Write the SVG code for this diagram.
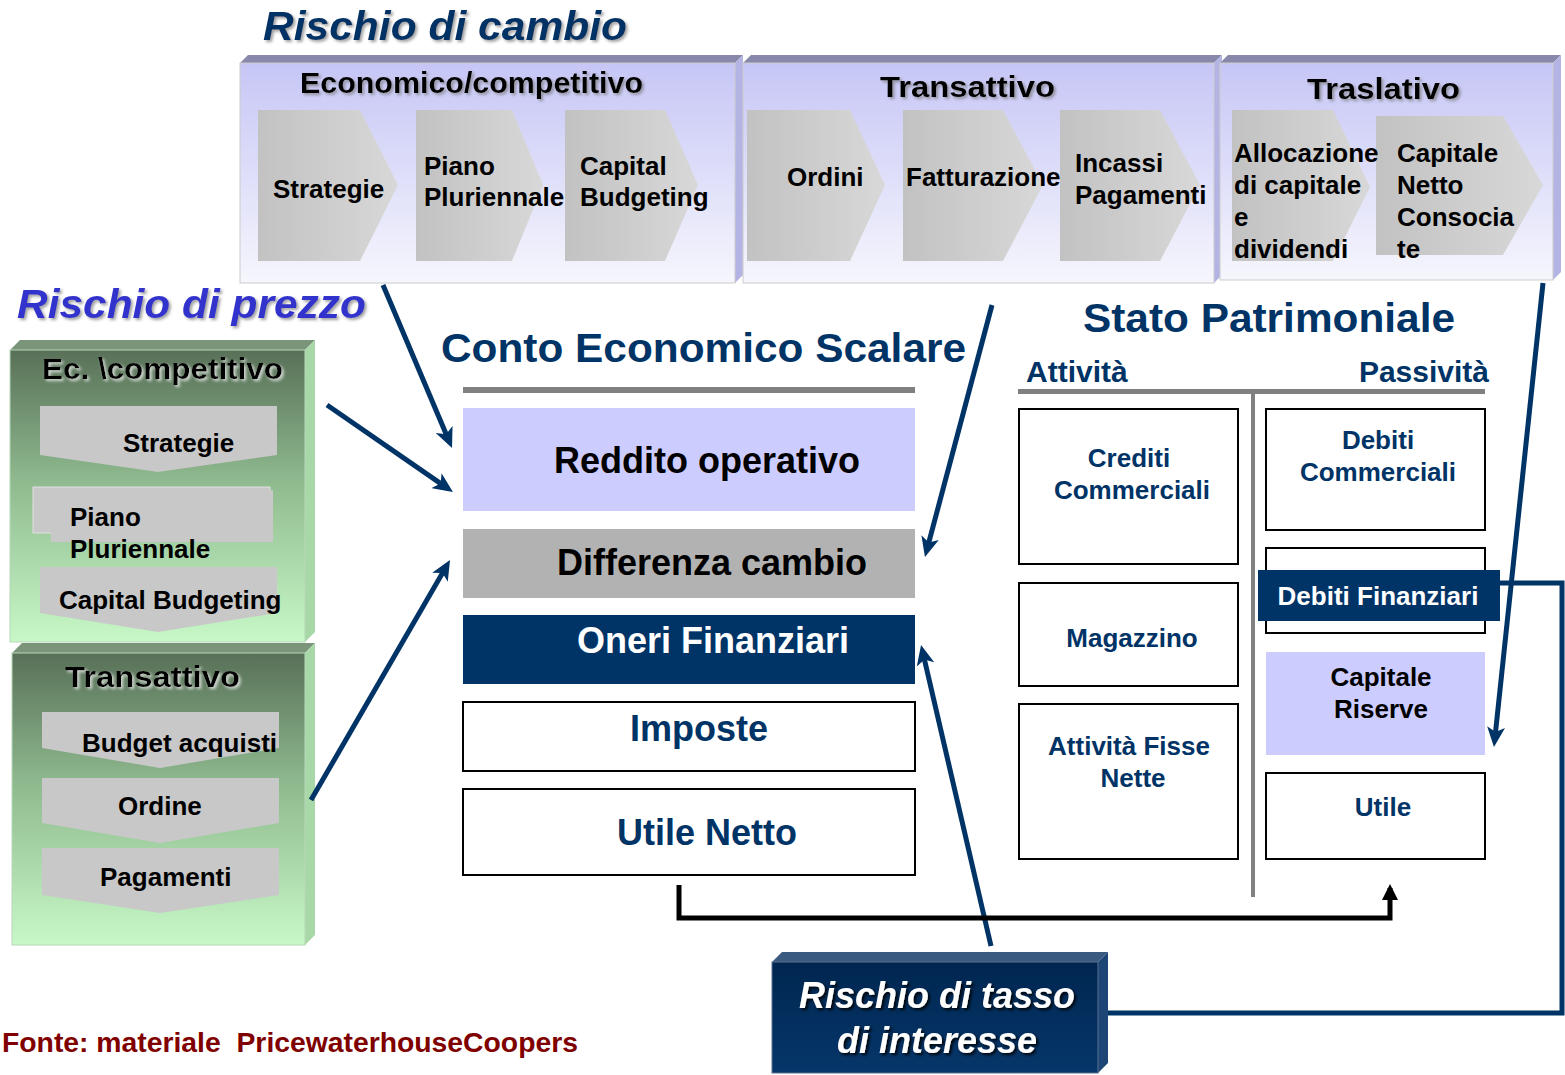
<svg xmlns="http://www.w3.org/2000/svg" width="1565" height="1075" viewBox="0 0 1565 1075">
<defs>
<linearGradient id="gTop" x1="0" y1="0" x2="0" y2="1">
<stop offset="0" stop-color="#c6c6f6"/><stop offset="1" stop-color="#f6f6fd"/>
</linearGradient>
<linearGradient id="gGreen" x1="0" y1="0" x2="0" y2="1">
<stop offset="0" stop-color="#587058"/><stop offset="0.45" stop-color="#8fba8f"/><stop offset="1" stop-color="#c8f8c8"/>
</linearGradient>
<linearGradient id="gChevH" x1="0" y1="0" x2="1" y2="0">
<stop offset="0" stop-color="#c2c2c2"/><stop offset="1" stop-color="#d8d8d8"/>
</linearGradient>
<linearGradient id="gNavy" x1="0" y1="0" x2="0" y2="1">
<stop offset="0" stop-color="#002650"/><stop offset="1" stop-color="#06366a"/>
</linearGradient>
<filter id="sh" x="-10%" y="-20%" width="130%" height="150%">
<feDropShadow dx="2" dy="2" stdDeviation="1.5" flood-color="#777" flood-opacity="0.7"/>
</filter>
<filter id="shW" x="-10%" y="-20%" width="130%" height="150%">
<feDropShadow dx="2" dy="2" stdDeviation="1.5" flood-color="#eee" flood-opacity="0.8"/>
</filter>
<filter id="shD" x="-10%" y="-20%" width="130%" height="150%">
<feDropShadow dx="2" dy="2" stdDeviation="1.5" flood-color="#000" flood-opacity="0.9"/>
</filter>
<marker id="arN" viewBox="0 0 20 18" refX="14" refY="9" markerWidth="20" markerHeight="18" markerUnits="userSpaceOnUse" orient="auto">
<path d="M0,0 L20,9 L0,18 L5,9 z" fill="#003366"/>
</marker>
<marker id="arK" viewBox="0 0 16 16" refX="12" refY="8" markerWidth="16" markerHeight="16" markerUnits="userSpaceOnUse" orient="auto">
<path d="M0,0 L16,8 L0,16 z" fill="#000"/>
</marker>
<style>
text{font-family:"Liberation Sans",Arial,sans-serif;font-weight:bold}
.comic{font-family:"Comic Sans MS","Liberation Sans",sans-serif;font-size:30px;fill:#000}
.chev{fill:url(#gChevH)}
.down{fill:#c8c8c8}
.t26{font-size:26px;fill:#000}
.n26{font-size:26px;fill:#003366}
.big{font-size:36px}
.bevT{fill:#8888aa}
.bevR{fill:#b4b4e4}
.gbevT{fill:#7a957a}
.gbevR{fill:#a8d8a8}
.box{fill:#fff;stroke:#000;stroke-width:2}
.conn{fill:none;stroke:#003366;stroke-width:5}
</style>
</defs>

<rect width="1565" height="1075" fill="#fff"/>

<text x="263" y="40" font-size="40" font-style="italic" fill="#003366" filter="url(#sh)" textLength="364" lengthAdjust="spacingAndGlyphs">Rischio di cambio</text>
<text x="17" y="318" font-size="40" font-style="italic" fill="#3333cc" filter="url(#sh)" textLength="349" lengthAdjust="spacingAndGlyphs">Rischio di prezzo</text>

<g id="panel-economico">
<polygon class="bevT" points="240,63 248,55 743,55 735,63"/>
<polygon class="bevR" points="735,63 743,55 743,275 735,283"/>
<rect x="240" y="63" width="495" height="220" fill="url(#gTop)" stroke="#ccc" stroke-width="1"/>
<text class="comic" x="300" y="93" textLength="343" lengthAdjust="spacingAndGlyphs" filter="url(#sh)">Economico/competitivo</text>
<polygon class="chev" points="258,110 360,110 398,185 360,261 258,261"/>
<polygon class="chev" points="416,110 512,110 543,185 512,261 416,261"/>
<polygon class="chev" points="565,110 665,110 698,185 665,261 565,261"/>
<text class="t26" x="273" y="198">Strategie</text>
<text class="t26" x="424" y="175">Piano</text>
<text class="t26" x="424" y="206">Pluriennale</text>
<text class="t26" x="580" y="175">Capital</text>
<text class="t26" x="580" y="206">Budgeting</text>
</g>

<g id="panel-transattivo">
<polygon class="bevT" points="743,63 751,55 1222,55 1214,63"/>
<polygon class="bevR" points="1214,63 1222,55 1222,275 1214,283"/>
<rect x="743" y="63" width="471" height="220" fill="url(#gTop)" stroke="#ccc" stroke-width="1"/>
<text class="comic" x="880" y="97" textLength="175" lengthAdjust="spacingAndGlyphs" filter="url(#sh)">Transattivo</text>
<polygon class="chev" points="747,110 850,110 885,185 850,261 747,261"/>
<polygon class="chev" points="903,110 1003,110 1043,185 1003,261 903,261"/>
<polygon class="chev" points="1060,110 1160,110 1200,185 1160,261 1060,261"/>
<text class="t26" x="787" y="186">Ordini</text>
<text class="t26" x="906" y="186">Fatturazione</text>
<text class="t26" x="1075" y="172">Incassi</text>
<text class="t26" x="1075" y="204">Pagamenti</text>
</g>

<g id="panel-traslativo">
<polygon class="bevT" points="1220,63 1228,55 1561,55 1553,63"/>
<polygon class="bevR" points="1553,63 1561,55 1561,272 1553,280"/>
<rect x="1220" y="63" width="333" height="217" fill="url(#gTop)" stroke="#ccc" stroke-width="1"/>
<text class="comic" x="1307" y="99" textLength="153" lengthAdjust="spacingAndGlyphs" filter="url(#sh)">Traslativo</text>
<polygon class="chev" points="1232,110 1333,110 1370,187 1333,261 1232,261"/>
<polygon class="chev" points="1376,116 1503,116 1543,185 1503,255 1376,255"/>
<text class="t26" x="1234" y="162">Allocazione</text>
<text class="t26" x="1234" y="194">di capitale</text>
<text class="t26" x="1234" y="226">e</text>
<text class="t26" x="1234" y="258">dividendi</text>
<text class="t26" x="1397" y="162">Capitale</text>
<text class="t26" x="1397" y="194">Netto</text>
<text class="t26" x="1397" y="226">Consocia</text>
<text class="t26" x="1397" y="258">te</text>
</g>

<g id="panel-ec-competitivo">
<polygon class="gbevT" points="10,350 20,340 315,340 305,350"/>
<polygon class="gbevR" points="305,350 315,340 315,632 305,642"/>
<rect x="10" y="350" width="295" height="292" fill="url(#gGreen)" stroke="#b8d8b8" stroke-width="1"/>
<text class="comic" x="42" y="379" textLength="241" lengthAdjust="spacingAndGlyphs" filter="url(#shW)">Ec. \competitivo</text>
<polygon class="down" points="40,406 277,406 277,455 158,472 40,455"/>
<rect class="down" x="33" y="487" width="237" height="46" stroke="#e0e0e0" stroke-width="1"/>
<rect class="down" x="51" y="490" width="222" height="52"/>
<polygon class="down" points="40,567 277,567 277,613 158,632 40,613"/>
<text class="t26" x="123" y="452">Strategie</text>
<text class="t26" x="70" y="526">Piano</text>
<text class="t26" x="70" y="558">Pluriennale</text>
<text class="t26" x="59" y="609">Capital Budgeting</text>
</g>

<g id="panel-transattivo-left">
<polygon class="gbevT" points="12,653 22,643 315,643 305,653"/>
<polygon class="gbevR" points="305,653 315,643 315,935 305,945"/>
<rect x="12" y="653" width="293" height="292" fill="url(#gGreen)" stroke="#b8d8b8" stroke-width="1"/>
<text class="comic" x="65" y="687" textLength="175" lengthAdjust="spacingAndGlyphs" filter="url(#shW)">Transattivo</text>
<polygon class="down" points="42,712 279,712 279,748 160,768 42,748"/>
<polygon class="down" points="42,778 279,778 279,823 160,843 42,823"/>
<polygon class="down" points="42,848 279,848 279,895 160,913 42,895"/>
<text class="t26" x="82" y="752">Budget acquisti</text>
<text class="t26" x="118" y="815">Ordine</text>
<text class="t26" x="100" y="886">Pagamenti</text>
</g>

<g id="conto-economico">
<text x="441" y="362" font-size="41" fill="#003366" textLength="525" lengthAdjust="spacingAndGlyphs">Conto Economico Scalare</text>
<rect x="463" y="387" width="452" height="6" fill="#808080"/>
</g>
<g id="reddito-operativo">
<rect x="463" y="408" width="452" height="103" fill="#ccccff"/>
<text class="big" x="707" y="473" text-anchor="middle" fill="#000">Reddito operativo</text>
</g>
<g id="differenza-cambio">
<rect x="463" y="529" width="452" height="69" fill="#b2b2b2"/>
<text class="big" x="712" y="575" text-anchor="middle" fill="#000">Differenza cambio</text>
</g>
<g id="oneri-finanziari">
<rect x="463" y="615" width="452" height="69" fill="#003366"/>
<text class="big" x="713" y="653" text-anchor="middle" fill="#fff">Oneri Finanziari</text>
</g>
<g id="imposte">
<rect class="box" x="463" y="702" width="452" height="69"/>
<text class="big" x="699" y="741" text-anchor="middle" fill="#003366">Imposte</text>
</g>
<g id="utile-netto">
<rect class="box" x="463" y="789" width="452" height="86"/>
<text class="big" x="707" y="845" text-anchor="middle" fill="#003366">Utile Netto</text>
</g>

<g id="stato-patrimoniale">
<text x="1083" y="332" font-size="41" fill="#003366" textLength="372" lengthAdjust="spacingAndGlyphs">Stato Patrimoniale</text>
<text x="1026" y="382" font-size="30" fill="#003366">Attività</text>
<text x="1489" y="382" font-size="30" text-anchor="end" fill="#003366">Passività</text>
<rect x="1018" y="389" width="467" height="5" fill="#808080"/>
<rect x="1251" y="394" width="4" height="503" fill="#808080"/>
</g>
<g id="crediti-commerciali">
<rect class="box" x="1019" y="409" width="219" height="155"/>
<text class="n26" x="1129" y="467" text-anchor="middle">Crediti</text>
<text class="n26" x="1132" y="499" text-anchor="middle">Commerciali</text>
</g>
<g id="magazzino">
<rect class="box" x="1019" y="583" width="219" height="103"/>
<text class="n26" x="1132" y="647" text-anchor="middle">Magazzino</text>
</g>
<g id="attivita-fisse">
<rect class="box" x="1019" y="704" width="219" height="155"/>
<text class="n26" x="1129" y="755" text-anchor="middle">Attività Fisse</text>
<text class="n26" x="1133" y="787" text-anchor="middle">Nette</text>
</g>
<g id="debiti-commerciali">
<rect class="box" x="1266" y="409" width="219" height="121"/>
<text class="n26" x="1378" y="449" text-anchor="middle">Debiti</text>
<text class="n26" x="1378" y="481" text-anchor="middle">Commerciali</text>
</g>
<g id="debiti-finanziari">
<rect class="box" x="1266" y="548" width="219" height="85"/>
<rect x="1258" y="570" width="242" height="51" fill="#003366"/>
<text x="1378" y="605" font-size="26" text-anchor="middle" fill="#fff">Debiti Finanziari</text>
</g>
<g id="capitale-riserve">
<rect x="1266" y="652" width="219" height="103" fill="#ccccff"/>
<text class="t26" x="1381" y="686" text-anchor="middle">Capitale</text>
<text class="t26" x="1381" y="718" text-anchor="middle">Riserve</text>
</g>
<g id="utile">
<rect class="box" x="1266" y="773" width="219" height="86"/>
<text class="n26" x="1383" y="816" text-anchor="middle">Utile</text>
</g>

<g id="rischio-tasso">
<polygon points="772,962 782,952 1108,952 1098,962" fill="#3a5a80"/>
<polygon points="1098,962 1108,952 1108,1063 1098,1073" fill="#1d4677"/>
<rect x="772" y="962" width="326" height="111" fill="url(#gNavy)" stroke="#5a7090" stroke-width="1"/>
<text x="937" y="1008" font-size="36" font-style="italic" text-anchor="middle" fill="#fff" filter="url(#shD)">Rischio di tasso</text>
<text x="937" y="1053" font-size="36" font-style="italic" text-anchor="middle" fill="#fff" filter="url(#shD)">di interesse</text>
</g>

<g id="connectors">
<line class="conn" x1="383" y1="285" x2="449.7" y2="442.5" marker-end="url(#arN)"/>
<line class="conn" x1="327" y1="405" x2="448" y2="488.6" marker-end="url(#arN)"/>
<line class="conn" x1="311" y1="800" x2="447" y2="565.2" marker-end="url(#arN)"/>
<line class="conn" x1="992" y1="305" x2="926.5" y2="551.2" marker-end="url(#arN)"/>
<line class="conn" x1="991" y1="946" x2="922.4" y2="650.8" marker-end="url(#arN)"/>
<line class="conn" x1="1543" y1="283" x2="1494.6" y2="741" marker-end="url(#arN)"/>
<path class="conn" d="M1108,1013 H1562 V583 H1500" stroke-width="4"/>
<path d="M679,885 V918 H1390 V888" fill="none" stroke="#000" stroke-width="5" marker-end="url(#arK)"/>
</g>

<text x="2" y="1052" font-size="28" fill="#800000" xml:space="preserve" textLength="576" lengthAdjust="spacingAndGlyphs">Fonte: materiale  PricewaterhouseCoopers</text>
</svg>
